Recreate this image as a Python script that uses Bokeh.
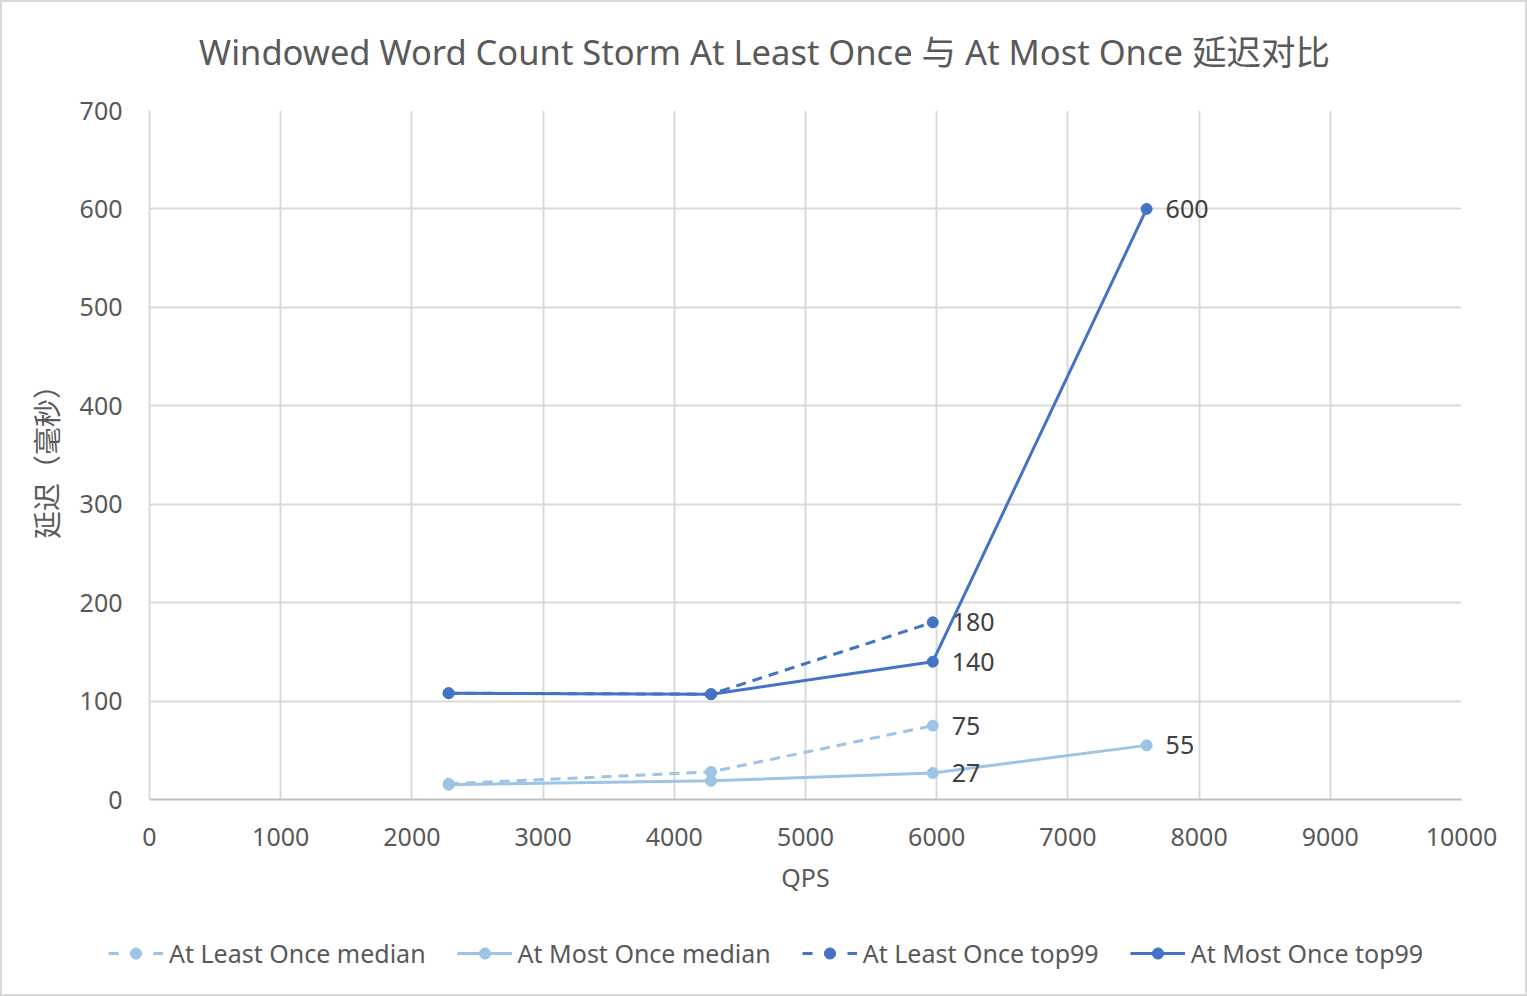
from bokeh.plotting import figure
from bokeh.models import (ColumnDataSource, Legend, LegendItem, Label, Range1d,
                          FixedTicker, NumeralTickFormatter)
from bokeh.core.properties import value
from bokeh.embed import file_html
from bokeh.resources import INLINE

# ---- data ----
qps_least = [2280, 4280, 5970]
qps_most = [2280, 4280, 5970, 7600]
alo_median = [16, 28, 75]
amo_median = [15, 19, 27, 55]
alo_top99 = [108, 107, 180]
amo_top99 = [108, 107, 140, 600]
series_names = ["At Least Once median", "At Most Once median",
                "At Least Once top99", "At Most Once top99"]
x_ticks = [0, 1000, 2000, 3000, 4000, 5000, 6000, 7000, 8000, 9000, 10000]
y_ticks = [0, 100, 200, 300, 400, 500, 600, 700]
title_text = "Windowed Word Count Storm At Least Once 与 At Most Once 延迟对比"
x_label = "QPS"
y_label = "延迟（毫秒）"
label_from_index = 2  # data labels shown from this point on

LIGHT = "#9DC3E6"
DARK = "#4472C4"
TXT = "#595959"
FONT = "Noto Sans, Noto Sans CJK SC"
CJK = "Noto Sans CJK SC"
BORDER = "2px solid #D9D9D9"
W = 1527


def strip(height, styles):
    f = figure(width=W, height=height, output_backend="svg", toolbar_location=None,
               x_range=Range1d(0, 1), y_range=Range1d(0, 1),
               x_axis_type=None, y_axis_type=None,
               min_border_left=0, min_border_right=0, min_border_top=0,
               min_border_bottom=0)
    f.styles = styles
    f.outline_line_color = None
    f.grid.visible = False
    f.background_fill_color = "white"
    f.border_fill_color = "white"
    return f


# header strip with the title
hf = strip(75, {"border-top": BORDER, "border-left": BORDER, "border-right": BORDER})
hf.add_layout(Label(x=762, y=26, x_units="screen", y_units="screen",
                    text=title_text, text_align="center", text_baseline="middle",
                    text_color=TXT, text_font=FONT, text_font_size="34.5px"))

# main chart
p = figure(width=W, height=837, output_backend="svg", toolbar_location=None,
           x_range=Range1d(0, 10000), y_range=Range1d(0, 700),
           min_border_left=147, min_border_right=68, min_border_top=35,
           min_border_bottom=113, title=None)
p.styles = {"border-left": BORDER, "border-right": BORDER}
p.outline_line_color = None
p.background_fill_color = "white"
p.border_fill_color = "white"

for ax in (p.xaxis[0], p.yaxis[0]):
    ax.major_tick_line_color = None
    ax.minor_tick_line_color = None
    ax.major_label_text_font = FONT
    ax.major_label_text_font_size = "25px"
    ax.major_label_text_color = TXT
    ax.axis_label_text_color = TXT
    ax.axis_label_text_font_style = "normal"
p.xaxis.axis_label_text_font = FONT
p.xaxis.axis_label_text_font_size = "25px"
p.yaxis.axis_label_text_font = CJK
p.yaxis.axis_label_text_font_size = "28px"
p.xaxis.ticker = FixedTicker(ticks=x_ticks)
p.yaxis.ticker = FixedTicker(ticks=y_ticks)
p.xaxis.formatter = NumeralTickFormatter(format="0")
p.yaxis.formatter = NumeralTickFormatter(format="0")
p.xaxis.axis_line_color = "#BFBFBF"
p.xaxis.axis_line_width = 2
p.yaxis.axis_line_color = "#D9D9D9"
p.yaxis.axis_line_width = 2
p.xaxis.major_label_standoff = 22
p.yaxis.major_label_standoff = 21
p.xaxis.axis_label = x_label
p.yaxis.axis_label = y_label
p.xaxis.axis_label_standoff = 11
p.yaxis.axis_label_standoff = 11
p.xgrid.ticker = FixedTicker(ticks=x_ticks)
p.ygrid.ticker = FixedTicker(ticks=y_ticks)
p.grid.grid_line_color = "#D9D9D9"
p.grid.grid_line_width = 2

# legend strip
lf = strip(84, {"border-bottom": BORDER, "border-left": BORDER, "border-right": BORDER})

series = [
    (qps_least, alo_median, LIGHT, "10 7"),
    (qps_most, amo_median, LIGHT, "solid"),
    (qps_least, alo_top99, DARK, "10 7"),
    (qps_most, amo_top99, DARK, "solid"),
]

items = []
for name, (xs, ys, color, dash) in zip(series_names, series):
    src = ColumnDataSource(dict(x=xs, y=ys))
    p.line("x", "y", source=src, line_color=color, line_width=3, line_dash=dash)
    p.scatter("x", "y", source=src, size=11, fill_color=color, line_color=color)
    lx = xs[label_from_index:]
    ly = ys[label_from_index:]
    p.text(x=lx, y=ly, text=[str(v) for v in ly], x_offset=19,
           text_baseline="middle", text_align="left", text_color="#404040",
           text_font=value(FONT), text_font_size="25px")
    # legend proxy renderers (placed off-range so only the legend shows them)
    ldash = "10 35" if dash != "solid" else "solid"
    r1 = lf.line(x=[-10, -9], y=[-10, -10], line_color=color, line_width=3,
                 line_dash=ldash)
    r2 = lf.scatter(x=[-10], y=[-10], size=11, fill_color=color, line_color=color)
    items.append(LegendItem(label=name, renderers=[r1, r2]))

legend = Legend(items=items, orientation="horizontal", location=(106, 26),
                glyph_width=55, glyph_height=28, label_standoff=6, spacing=31,
                padding=0, margin=0, border_line_color=None,
                background_fill_alpha=0,
                label_text_font=FONT, label_text_font_size="25px",
                label_text_color=TXT)
lf.add_layout(legend)

open("out.html", "w").write(file_html([hf, p, lf], INLINE))
